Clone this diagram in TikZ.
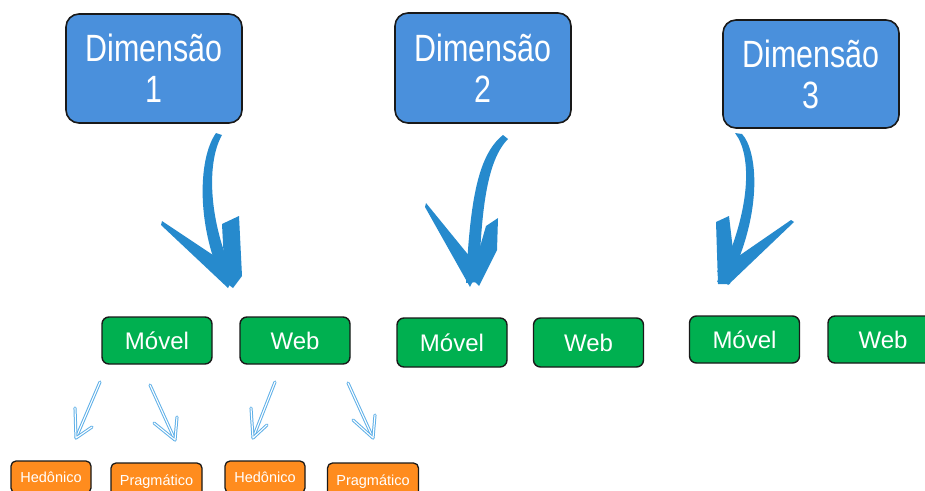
\documentclass[tikz,border=0pt]{standalone}
\usepackage{fontspec}
\setmainfont{Liberation Sans}
\newfontfamily\dimfont[FakeStretch=0.8]{Liberation Sans}
\definecolor{dimblue}{RGB}{74,144,220}
\definecolor{boxgreen}{RGB}{0,176,80}
\definecolor{boxorange}{RGB}{255,140,30}
\definecolor{brushblue}{RGB}{38,138,205}
\definecolor{sketchblue}{RGB}{95,176,232}
\definecolor{edge}{RGB}{25,25,25}

\begin{document}
\begin{tikzpicture}[x=1pt,y=-1pt,
  dimbox/.style={draw=edge, line width=1.6pt, fill=dimblue, rounded corners=13pt,
    minimum width=176pt, minimum height=109pt, inner sep=0pt, text=white,
    align=center, font=\dimfont\fontsize{38}{41}\selectfont},
  greenbox/.style={draw=edge, line width=1.4pt, fill=boxgreen, rounded corners=7pt,
    minimum width=110pt, minimum height=47pt, inner sep=0pt, text=white,
    font=\fontsize{24}{26}\selectfont},
  orangebox/.style={draw=edge, line width=1.3pt, fill=boxorange, rounded corners=5pt,
    minimum height=32pt, inner sep=0pt, text=white, text height=10.5pt, text depth=0pt,
    font=\fontsize{14.5}{16}\selectfont},
  brush/.style={fill=brushblue},
  sketch/.style={draw=sketchblue, line width=1pt, double=white,
    double distance=1.1pt, line cap=round, line join=round}]

\clip (0,0) rectangle (925,490);
\fill[white] (0,0) rectangle (925,490);

% dimension boxes
\node[dimbox] (d1) at (154,68.5) {Dimensão\\1};
\node[dimbox, minimum height=110pt] (d2) at (483,68) {Dimensão\\2};
\node[dimbox, minimum height=108pt] (d3) at (811,74) {Dimensão\\3};

% platform boxes
\node[greenbox] (m1) at (157,340.5) {Móvel};
\node[greenbox] (w1) at (295,340.5) {Web};
\node[greenbox, minimum height=49pt] (m2) at (452,342.5) {Móvel};
\node[greenbox, minimum height=49pt] (w2) at (588.5,342.5) {Web};
\node[greenbox] (m3) at (744.5,339.5) {Móvel};
\node[greenbox] (w3) at (883,339.5) {Web};

% value boxes
\node[orangebox, minimum width=80pt] (h1) at (51,477) {Hedônico};
\node[orangebox, minimum width=91pt, minimum height=34pt] (p1) at (156.5,480) {Pragmático};
\node[orangebox, minimum width=80pt] (h2) at (265,477) {Hedônico};
\node[orangebox, minimum width=91pt, minimum height=34pt] (p2) at (373,480) {Pragmático};

% brush arrow under dimension 1
\fill[brush] (216,133) .. controls (197,160) and (197,230) .. (224,284)
  -- (236,280) .. controls (210,228) and (205,165) .. (222,135) -- cycle;
\fill[brush] (162,221) -- (237,271) -- (228,288) -- (161,225) -- cycle;
\fill[brush] (222,224) -- (239,216) -- (242,276) -- (233,288) -- (225,282) -- cycle;

% brush arrow under dimension 2
\fill[brush] (503,135) .. controls (478,155) and (470,200) .. (466,283)
  -- (479,282) .. controls (481,210) and (487,160) .. (508,139) -- cycle;
\fill[brush] (426,203) -- (479,268) -- (470,287) -- (425,207) -- cycle;
\fill[brush] (486,226) -- (498,218) -- (497,250) -- (479,286) -- (471,278) -- cycle;

% brush arrow under dimension 3
\fill[brush] (735,133) .. controls (752,155) and (752,210) .. (717,282)
  -- (729,281) .. controls (764,210) and (757,150) .. (742,134) -- cycle;
\fill[brush] (716,222) -- (729,216) -- (733,250) -- (730,284) -- (718,284) -- cycle;
\fill[brush] (794,222) -- (728,285) -- (717,271) -- (791,220) -- cycle;

% sketched arrows from the platform boxes to the value boxes
\coordinate (a1s) at (100,382); \coordinate (a1t) at (76,438);
\coordinate (a1l) at (75,408);  \coordinate (a1r) at (92,427);
\coordinate (a2s) at (150,385); \coordinate (a2t) at (175,440);
\coordinate (a2l) at (154,423); \coordinate (a2r) at (177,417);
\coordinate (a3s) at (275,382); \coordinate (a3t) at (253,438);
\coordinate (a3l) at (251,408); \coordinate (a3r) at (267,425);
\coordinate (a4s) at (348,383); \coordinate (a4t) at (373,438);
\coordinate (a4l) at (353,420); \coordinate (a4r) at (375,415);
\foreach \a in {a1,a2,a3,a4}{
  \draw[sketch] (\a s) -- (\a t);
  \draw[sketch] (\a l) -- (\a t) -- (\a r);
}
\end{tikzpicture}
\end{document}
